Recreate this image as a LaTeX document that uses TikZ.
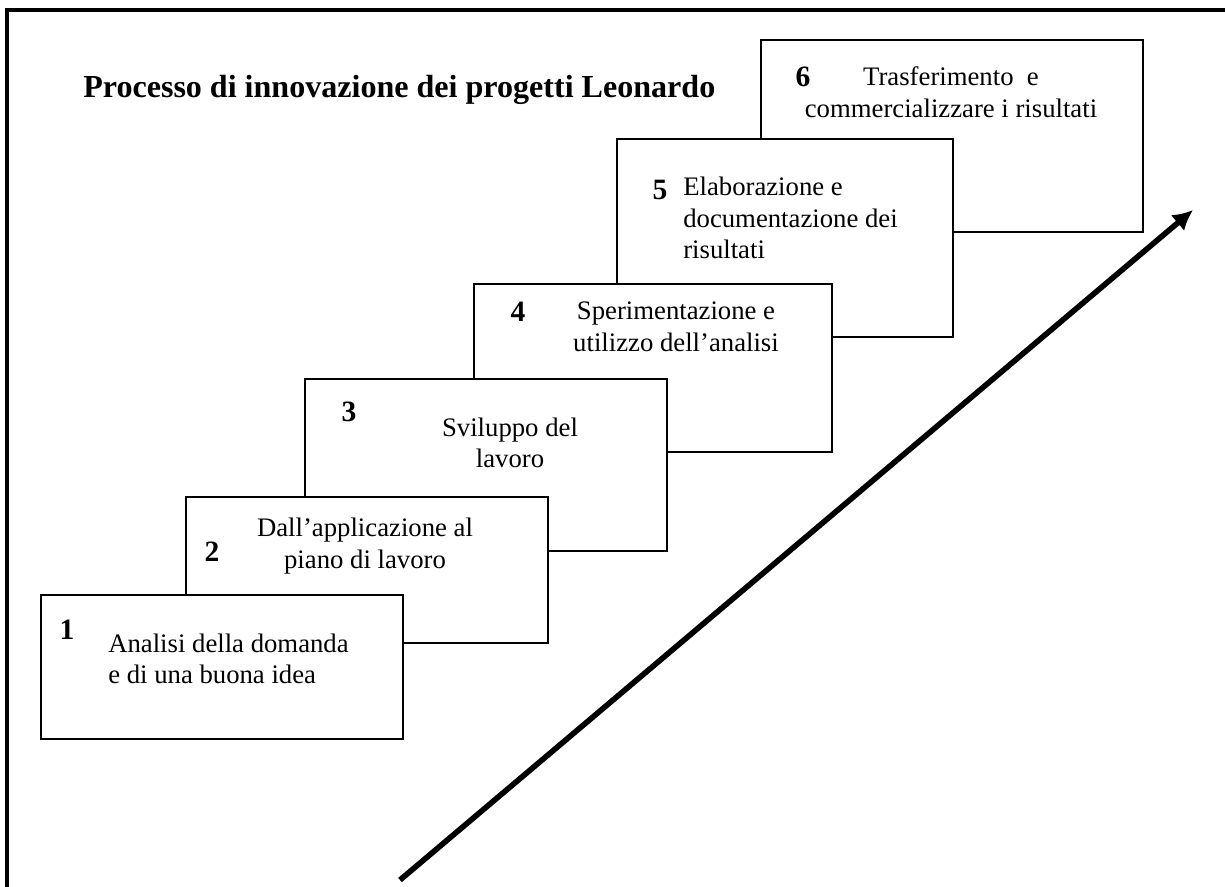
\documentclass[tikz,border=0pt]{standalone}
\usepackage{fontspec}
\setmainfont{Liberation Serif}
\usetikzlibrary{arrows.meta}

\begin{document}
\begin{tikzpicture}[x=0.025cm, y=-0.025cm]

        % Setup the styles for the steps
        \tikzset{stepbox/.style={draw,
                                 line width=0.05cm,
                                 fill=white,
                                 anchor=north west,
                                 inner sep=0pt,
                                 minimum width=9.05cm},
                 steptext/.style={font=\fontsize{19}{22.5}\selectfont,
                                  align=center,
                                  inner sep=0pt},
                 stepnum/.style={font=\fontsize{21}{24}\selectfont\bfseries,
                                 inner sep=0pt}}

        \useasboundingbox (0,0) rectangle (1225,887);

        % Frame
        \draw[line width=0.08cm] (7,887) -- (7,10) -- (1225,10);

        % Title
        \node[font=\fontsize{22.8}{26}\selectfont\bfseries, anchor=west, inner sep=0pt]
            at (83,90) (title) {Processo di innovazione dei progetti Leonardo};

        % Draw the steps, the last one first
        \node[stepbox, minimum width=9.55cm, minimum height=4.8cm] at (760,39) (b6) {};
        \node[stepnum] at (803,77) (n6) {6};
        \node[steptext] at (951,92) (t6) {Trasferimento~ e\\commercializzare i risultati};

        \node[stepbox, minimum width=8.4cm, minimum height=4.95cm] at (616,138) (b5) {};
        \node[stepnum] at (660,190) (n5) {5};
        \node[steptext, align=left, anchor=west] at (683,218) (t5) {Elaborazione e\\documentazione dei\\risultati};

        \node[stepbox, minimum width=8.95cm, minimum height=4.2cm] at (473,283) (b4) {};
        \node[stepnum] at (518,312) (n4) {4};
        \node[steptext] at (676,327) (t4) {Sperimentazione e\\utilizzo dell’analisi};

        \node[stepbox, minimum height=4.3cm] at (304,378) (b3) {};
        \node[stepnum] at (349,412) (n3) {3};
        \node[steptext] at (510,443) (t3) {Sviluppo del\\lavoro};

        \node[stepbox, minimum width=9.05cm, minimum height=3.65cm] at (185,496) (b2) {};
        \node[stepnum] at (212,552) (n2) {2};
        \node[steptext] at (365,546) (t2) {Dall’applicazione al\\piano di lavoro};

        \node[stepbox, minimum height=3.6cm] at (40,594) (b1) {};
        \node[stepnum] at (67,630) (n1) {1};
        \node[steptext, align=left, anchor=west] at (108,659) (t1) {Analisi della domanda\\e di una buona idea};

        % Arrow
        \coordinate (tail) at (400,880);
        \coordinate (head) at (1193,210);
        \draw[line width=0.14cm, -{Latex[length=0.5cm, width=0.52cm]}] (tail) -- (head);

\end{tikzpicture}
\end{document}
